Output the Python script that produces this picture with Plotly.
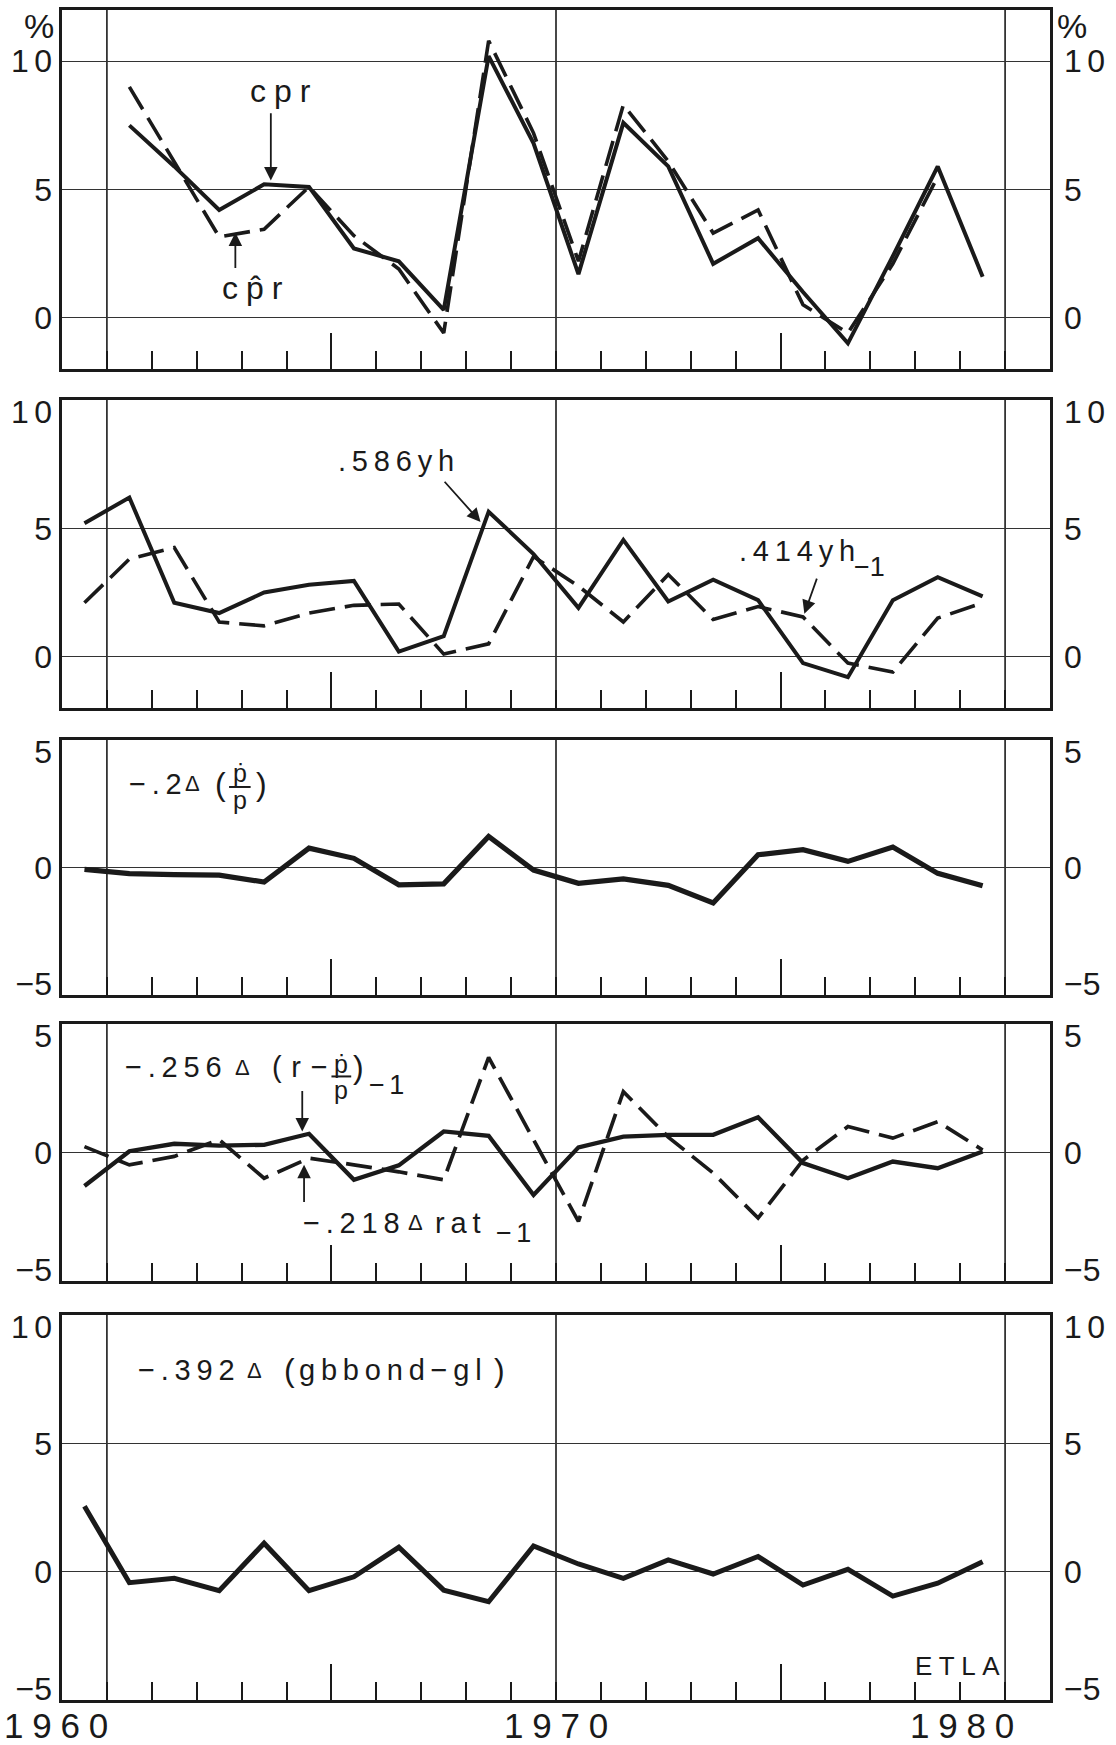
import plotly.graph_objects as go

# ---- data (annual rates, % ; each value plotted at the middle of its year) ----
YEARS_60 = list(range(1960, 1981))          # 1960 ... 1980
YEARS_61 = list(range(1961, 1981))          # 1961 ... 1980
YEARS_61_79 = list(range(1961, 1980))       # 1961 ... 1979

cpr = [7.5, 5.9, 4.2, 5.2, 5.1, 2.7, 2.2, 0.3, 10.2, 6.8,
       1.7, 7.6, 5.9, 2.1, 3.1, 1.0, -1.0, 2.4, 5.9, 1.6]
cpr_hat = [9.0, 6.1, 3.15, 3.45, 5.1, 3.2, 1.9, -0.6, 10.8, 7.2,
           2.2, 8.3, 6.1, 3.3, 4.2, 0.5, -0.6, 2.1, 5.5]

yh_586 = [5.2, 6.2, 2.1, 1.7, 2.5, 2.8, 2.95, 0.2, 0.8, 5.65, 4.0,
          1.9, 4.55, 2.15, 3.0, 2.2, -0.25, -0.8, 2.2, 3.1, 2.35]
yh_414_lag = [2.1, 3.8, 4.25, 1.35, 1.2, 1.7, 2.0, 2.05, 0.1, 0.5, 3.9,
              2.75, 1.35, 3.2, 1.45, 1.95, 1.55, -0.25, -0.6, 1.5, 2.1]

d_infl = [-0.07, -0.24, -0.28, -0.3, -0.57, 0.76, 0.36, -0.68, -0.64, 1.22, -0.1,
          -0.62, -0.45, -0.7, -1.39, 0.5, 0.7, 0.24, 0.8, -0.23, -0.72]

d_real_rate = [-1.3, 0.05, 0.34, 0.27, 0.3, 0.73, -1.06, -0.5, 0.82, 0.65, -1.65,
               0.2, 0.62, 0.69, 0.69, 1.37, -0.41, -1.0, -0.35, -0.61, 0.04]
d_rat = [0.23, -0.48, -0.15, 0.5, -1.0, -0.22, -0.48, -0.75, -1.06, 3.7, 0.5,
         -2.68, 2.37, 0.6, -0.8, -2.55, -0.3, 1.01, 0.56, 1.2, 0.1]

d_gbbond = [2.55, -0.43, -0.26, -0.74, 1.11, -0.74, -0.2, 0.95, -0.72, -1.17, 1.0,
            0.3, -0.26, 0.46, -0.09, 0.59, -0.52, 0.09, -0.95, -0.45, 0.39]

YEAR_LABELS = ["1960", "1970", "1980"]

# ---- style ----
INK = "#1a1a1a"
GRID = "#333333"
FONT = "Liberation Sans, Arial, Helvetica, sans-serif"
W, H = 1116, 1745
ML, MR, MT, MB = 62, 66, 10, 45
THIN = "\u2009"   # letter tracking for the labels
SP4 = "\u2005"
SP3 = "\u2004"
DASH = "26px,10px"
X0, X1 = 1960, 1982

DOMAINS = [(0.7876, 1.0), (0.5870, 0.7692), (0.4172, 0.5680),
           (0.2479, 0.4000), (0.0, 0.2278)]
YRANGES = [(-2, 12), (-2, 10), (-5, 5), (-5, 5), (-5, 10)]
YTICKS = [[0, 5, 10], [0, 5, 10], [-5, 0, 5], [-5, 0, 5], [-5, 0, 5, 10]]
EDGE_INSET = 0.45   # scale numbers sitting on a frame edge are nudged inwards


def mid(years):
    return [y + 0.5 for y in years]


def sfx(i):
    return "" if i == 1 else str(i)


def tick_text(v):
    s = str(abs(v))
    if len(s) == 2:
        s = s[0] + "\u2006" + s[1]
    return ("\u2212" + s) if v < 0 else s


def label_pos(v, rng):
    if v == rng[1]:
        return v - EDGE_INSET
    if v == rng[0]:
        return v + EDGE_INSET
    return v


def tracked(s, gap=THIN):
    return gap.join(s)


fig = go.Figure()


def line(panel, years, values, width, dashed=False):
    fig.add_trace(go.Scatter(
        x=mid(years), y=values, mode="lines",
        line=dict(color=INK, width=width, dash=DASH if dashed else "solid"),
        xaxis="x" + sfx(panel), yaxis="y" + sfx(panel),
        showlegend=False, hoverinfo="skip"))


line(1, YEARS_61_79, cpr_hat, 3.6, dashed=True)
line(1, YEARS_61, cpr, 4.0)
line(2, YEARS_60, yh_414_lag, 3.6, dashed=True)
line(2, YEARS_60, yh_586, 4.0)
line(3, YEARS_60, d_infl, 5.2)
line(4, YEARS_60, d_rat, 3.7, dashed=True)
line(4, YEARS_60, d_real_rate, 4.3)
line(5, YEARS_60, d_gbbond, 5.0)

# scale-number axes (left and right) overlay each panel; give each an empty series
for i in range(1, 6):
    for k in (5, 10):
        fig.add_trace(go.Scatter(x=[], y=[], mode="lines", xaxis="x" + sfx(i),
                                 yaxis="y" + str(i + k), showlegend=False,
                                 hoverinfo="skip"))

layout = dict(
    width=W, height=H,
    margin=dict(l=ML, r=MR, t=MT, b=MB, autoexpand=False),
    paper_bgcolor="white", plot_bgcolor="white",
    font=dict(family=FONT, color=INK),
    showlegend=False,
)

shapes = []
for i in range(1, 6):
    s = sfx(i)
    rng = YRANGES[i - 1]
    tv = YTICKS[i - 1]
    lp = [label_pos(v, rng) for v in tv]
    lt = [tick_text(v) for v in tv]
    layout["xaxis" + s] = dict(
        domain=[0, 1], anchor="y" + s, range=[X0, X1], automargin=False,
        showticklabels=False, showgrid=False, zeroline=False,
        ticks="inside", tickmode="array", tickvals=[1966, 1976],
        ticklen=36, tickwidth=1.6, tickcolor=INK,
        minor=dict(ticks="inside", tickmode="linear", tick0=1960, dtick=1,
                   ticklen=18, tickwidth=1.6, tickcolor=INK, showgrid=False),
        showline=True, mirror=True, linecolor=INK, linewidth=3,
    )
    # frame and horizontal grid
    layout["yaxis" + s] = dict(
        domain=list(DOMAINS[i - 1]), anchor="x" + s, range=list(rng),
        automargin=False, tickmode="array", tickvals=tv, showticklabels=False,
        ticks="", showgrid=True, gridcolor=GRID, gridwidth=1.4, zeroline=False,
        showline=True, mirror=True, linecolor=INK, linewidth=3,
    )
    # right-hand scale numbers
    layout["yaxis" + str(i + 5)] = dict(
        overlaying="y" + s, anchor="x" + s, side="right", automargin=False,
        range=list(rng), tickmode="array", tickvals=lp, ticktext=lt,
        ticks="", ticklabelstandoff=13,
        tickfont=dict(family=FONT, size=32, color=INK),
        showgrid=False, zeroline=False, showline=False,
    )
    # left-hand scale numbers
    layout["yaxis" + str(i + 10)] = dict(
        overlaying="y" + s, anchor="x" + s, side="left", automargin=False,
        range=list(rng), tickmode="array", tickvals=lp, ticktext=lt,
        ticks="", ticklabelstandoff=9,
        tickfont=dict(family=FONT, size=32, color=INK),
        showgrid=False, zeroline=False, showline=False,
    )
    # decade separators
    for yr in (1961, 1971, 1981):
        shapes.append(dict(type="line", xref="x" + s, yref="y" + s + " domain",
                           x0=yr, x1=yr, y0=0, y1=1, layer="below",
                           line=dict(color=INK, width=1.6)))

annotations = []


def text(panel, x, y, t, size=29, xanchor="left", yanchor="middle"):
    s = sfx(panel)
    annotations.append(dict(xref="x" + s, yref="y" + s, x=x, y=y, text=t,
                            showarrow=False, xanchor=xanchor, yanchor=yanchor,
                            borderpad=0,
                            font=dict(family=FONT, size=size, color=INK)))


def arrow(panel, x0, y0, x1, y1):
    s = sfx(panel)
    annotations.append(dict(xref="x" + s, yref="y" + s, x=x1, y=y1,
                            axref="x" + s, ayref="y" + s, ax=x0, ay=y0,
                            text="", showarrow=True, arrowhead=2, arrowsize=1.5,
                            arrowwidth=1.8, arrowcolor=INK, standoff=0,
                            startstandoff=0))


def frac_bar(panel, x0, x1, y):
    s = sfx(panel)
    shapes.append(dict(type="line", xref="x" + s, yref="y" + s,
                       x0=x0, x1=x1, y0=y, y1=y,
                       line=dict(color=INK, width=2)))


# panel 1: cpr and its fitted value
text(1, 1964.86, 8.84, tracked("cpr", SP4), size=32, xanchor="center")
arrow(1, 1964.65, 8.03, 1964.65, 5.35)
text(1, 1964.25, 1.15, "c" + SP4 + "p\u0302" + SP4 + "r", size=32, xanchor="center")
arrow(1, 1963.86, 1.88, 1963.86, 3.32)

# panel 2: income terms
text(2, 1967.44, 7.62, tracked(".586yh"), xanchor="center")
arrow(2, 1968.49, 6.875, 1969.32, 5.25)
text(2, 1975.05, 4.1, tracked(".414yh"))
text(2, 1977.62, 3.5, "\u22121", size=27)
arrow(2, 1976.82, 3.1, 1976.53, 1.67)

# panel 3: inflation change term
text(3, 1961.46, 3.28, tracked("\u2212.2"))
text(3, 1962.72, 3.28, "\u0394", size=22)
text(3, 1963.39, 3.28, "(", size=32)
text(3, 1963.96, 3.72, "\u1e57", size=25, xanchor="center")
frac_bar(3, 1963.72, 1964.2, 3.16)
text(3, 1963.96, 2.66, "p", size=25, xanchor="center")
text(3, 1964.30, 3.28, ")", size=32)

# panel 4: real interest rate and rationing terms
text(4, 1961.37, 3.31, tracked("\u2212.256"))
text(4, 1963.84, 3.31, "\u0394", size=22)
text(4, 1964.66, 3.31, tracked("(r\u2212", SP3))
text(4, 1966.22, 3.45, "\u1e57", size=25, xanchor="center")
frac_bar(4, 1966.0, 1966.44, 2.96)
text(4, 1966.22, 2.45, "p", size=25, xanchor="center")
text(4, 1966.46, 3.31, ")", size=32)
text(4, 1966.82, 2.62, tracked("\u22121", "\u2006"), size=27)
arrow(4, 1965.35, 2.45, 1965.35, 0.82)

text(4, 1965.35, -2.73, tracked("\u2212.218"))
text(4, 1967.69, -2.73, "\u0394", size=22)
text(4, 1968.29, -2.73, tracked("rat"))
text(4, 1969.65, -3.12, tracked("\u22121", "\u2006"), size=27)
arrow(4, 1965.39, -1.98, 1965.39, -0.48)

# panel 5: bond financing term
text(5, 1961.66, 7.84, tracked("\u2212.392"))
text(5, 1964.10, 7.84, "\u0394", size=22)
text(5, 1964.91, 7.84, "(", size=32)
text(5, 1965.26, 7.84, tracked("gbbond\u2212gl"))
text(5, 1969.60, 7.84, ")", size=32)
text(5, 1979.93, -3.68, tracked("ETLA", SP4), size=26, xanchor="center")

# year labels under the bottom panel (placed in paper units so the first may
# sit on the frame edge)
for lab, xv in zip(YEAR_LABELS, (1959.86, 1971.0, 1980.03)):
    annotations.append(dict(xref="paper", yref="paper", x=(xv - X0) / (X1 - X0),
                            y=-0.0151, text=tracked(lab, SP4), showarrow=False,
                            xanchor="center", yanchor="middle",
                            font=dict(family=FONT, size=35, color=INK)))

# percent signs above the top scale
for xp, yp in ((-0.0233, 0.9905), (1.0223, 0.9905)):
    annotations.append(dict(xref="paper", yref="paper", x=xp, y=yp, text="%",
                            showarrow=False, xanchor="center", yanchor="middle",
                            font=dict(family=FONT, size=34, color=INK)))

layout["shapes"] = shapes
layout["annotations"] = annotations
fig.update_layout(**layout)

fig.write_html("out.html")
